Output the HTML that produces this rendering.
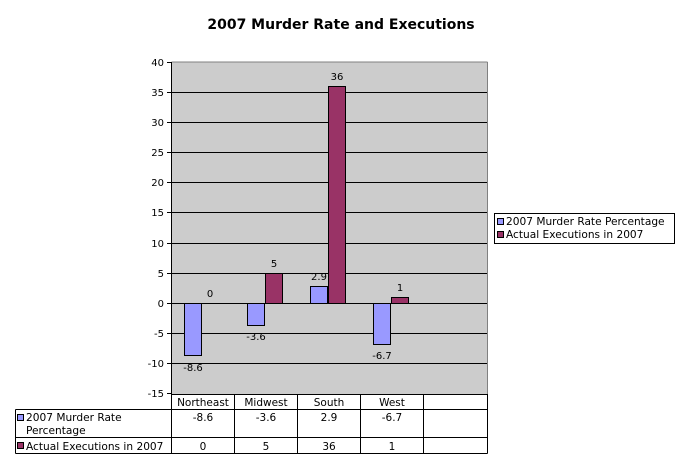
<!DOCTYPE html>
<html><head><meta charset="utf-8"><style>
body{margin:0;background:#fff;}
svg{display:block;font-family:"DejaVu Sans","Liberation Sans",sans-serif;}
</style></head><body>
<svg width="683" height="467" viewBox="0 0 683 467" xmlns="http://www.w3.org/2000/svg">
<text x="341" y="29" font-size="14" font-weight="bold" text-anchor="middle" fill="#000">2007 Murder Rate and Executions</text>
<rect x="171.5" y="62" width="316" height="332" fill="#cccccc"/>
<g stroke="#000" stroke-width="1">
<line x1="171.5" y1="92.5" x2="487.5" y2="92.5"/>
<line x1="171.5" y1="122.5" x2="487.5" y2="122.5"/>
<line x1="171.5" y1="152.5" x2="487.5" y2="152.5"/>
<line x1="171.5" y1="182.5" x2="487.5" y2="182.5"/>
<line x1="171.5" y1="212.5" x2="487.5" y2="212.5"/>
<line x1="171.5" y1="243.5" x2="487.5" y2="243.5"/>
<line x1="171.5" y1="273.5" x2="487.5" y2="273.5"/>
<line x1="171.5" y1="303.5" x2="487.5" y2="303.5"/>
<line x1="171.5" y1="333.5" x2="487.5" y2="333.5"/>
<line x1="171.5" y1="363.5" x2="487.5" y2="363.5"/>
</g>
<line x1="487.5" y1="62" x2="487.5" y2="394" stroke="#808080"/>
<line x1="171.5" y1="62" x2="487.5" y2="62" stroke="#808080"/>
<g stroke="#000" stroke-width="1">
<line x1="171.5" y1="62" x2="171.5" y2="394"/>
<line x1="167" y1="62.5" x2="171.5" y2="62.5"/><line x1="167" y1="92.5" x2="171.5" y2="92.5"/>
<line x1="167" y1="122.5" x2="171.5" y2="122.5"/><line x1="167" y1="152.5" x2="171.5" y2="152.5"/>
<line x1="167" y1="182.5" x2="171.5" y2="182.5"/><line x1="167" y1="212.5" x2="171.5" y2="212.5"/>
<line x1="167" y1="243.5" x2="171.5" y2="243.5"/><line x1="167" y1="273.5" x2="171.5" y2="273.5"/>
<line x1="167" y1="303.5" x2="171.5" y2="303.5"/><line x1="167" y1="333.5" x2="171.5" y2="333.5"/>
<line x1="167" y1="363.5" x2="171.5" y2="363.5"/><line x1="167" y1="393.5" x2="171.5" y2="393.5"/>
</g>
<g font-size="10" text-anchor="end" fill="#000">
<text x="164" y="66">40</text><text x="164" y="96">35</text><text x="164" y="126">30</text>
<text x="164" y="156">25</text><text x="164" y="186">20</text><text x="164" y="216">15</text>
<text x="164" y="247">10</text><text x="164" y="277">5</text><text x="164" y="307">0</text>
<text x="164" y="337">-5</text><text x="164" y="367">-10</text><text x="164" y="397">-15</text>
</g>
<g stroke="#000" stroke-width="1">
<rect x="184.5" y="303.5" width="17" height="52" fill="#9999ff"/>
<rect x="247.5" y="303.5" width="17" height="22" fill="#9999ff"/>
<rect x="265.5" y="273.5" width="17" height="30" fill="#993366"/>
<rect x="310.5" y="286.5" width="17" height="17" fill="#9999ff"/>
<rect x="328.5" y="86.5" width="17" height="217" fill="#993366"/>
<rect x="373.5" y="303.5" width="17" height="41" fill="#9999ff"/>
<rect x="391.5" y="297.5" width="17" height="6" fill="#993366"/>
</g>
<g font-size="10" text-anchor="middle" fill="#000">
<text x="193" y="371">-8.6</text><text x="210" y="297">0</text>
<text x="256" y="340">-3.6</text><text x="274" y="267">5</text>
<text x="319" y="280">2.9</text><text x="337" y="80">36</text>
<text x="382" y="359">-6.7</text><text x="400" y="291">1</text>
</g>
<g stroke="#000" stroke-width="1" fill="none">
<line x1="171.5" y1="394.5" x2="487.5" y2="394.5"/>
<line x1="15.5" y1="409.5" x2="487.5" y2="409.5"/>
<line x1="15.5" y1="437.5" x2="487.5" y2="437.5"/>
<line x1="15.5" y1="453.5" x2="487.5" y2="453.5"/>
<line x1="15.5" y1="409.5" x2="15.5" y2="453.5"/>
<line x1="171.5" y1="394" x2="171.5" y2="453.5"/>
<line x1="234.5" y1="394" x2="234.5" y2="453.5"/>
<line x1="297.5" y1="394" x2="297.5" y2="453.5"/>
<line x1="360.5" y1="394" x2="360.5" y2="453.5"/>
<line x1="423.5" y1="394" x2="423.5" y2="453.5"/>
<line x1="487.5" y1="394" x2="487.5" y2="453.5"/>
</g>
<g font-size="10.5" text-anchor="middle" fill="#000">
<text x="203" y="406">Northeast</text><text x="266" y="406">Midwest</text>
<text x="329" y="406">South</text><text x="392" y="406">West</text>
<text x="203" y="421">-8.6</text><text x="266" y="421">-3.6</text>
<text x="329" y="421">2.9</text><text x="392" y="421">-6.7</text>
<text x="203" y="450">0</text><text x="266" y="450">5</text>
<text x="329" y="450">36</text><text x="392" y="450">1</text>
</g>
<g font-size="10.6" fill="#000">
<rect x="17.5" y="414.5" width="6" height="6" fill="#9999ff" stroke="#000"/>
<text x="26" y="421">2007 Murder Rate</text>
<text x="26" y="434">Percentage</text>
<rect x="17.5" y="442.5" width="6" height="6" fill="#993366" stroke="#000"/>
<text x="26" y="450">Actual Executions in 2007</text>
</g>
<rect x="494.5" y="213.5" width="180" height="30" fill="#fff" stroke="#000"/>
<g font-size="10.6" fill="#000">
<rect x="497.5" y="218.5" width="6" height="6" fill="#9999ff" stroke="#000"/>
<text x="506" y="225">2007 Murder Rate Percentage</text>
<rect x="497.5" y="231.5" width="6" height="6" fill="#993366" stroke="#000"/>
<text x="506" y="238">Actual Executions in 2007</text>
</g>
</svg>
</body></html>
